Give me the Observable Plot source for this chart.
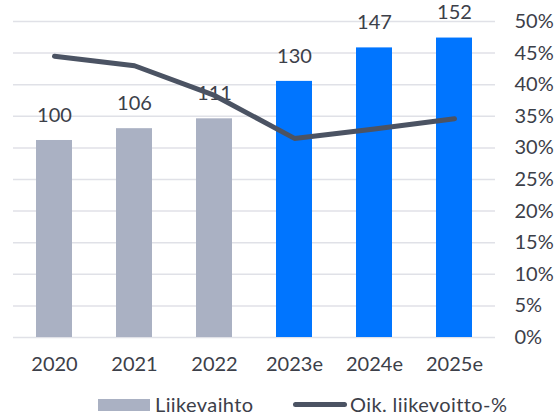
<!DOCTYPE html>
<html>
<head>
<meta charset="utf-8">
<script src="https://cdn.jsdelivr.net/npm/d3@7"></script>
<script src="https://cdn.jsdelivr.net/npm/@observablehq/plot@0.6"></script>
<style>
  html, body { margin: 0; padding: 0; background: #fff; }
  body { width: 558px; height: 416px; overflow: hidden; font-family: Lato, "Open Sans", sans-serif; color: #3c4049; }
  #chart svg { display: block; }
  .legend { position: relative; height: 36px; font-size: 20px; letter-spacing: 0.4px; }
  .legend .sw1 { position: absolute; left: 98px; top: 19px; width: 52px; height: 12px; background: #aab1c3; }
  .legend .t1 { position: absolute; left: 155px; top: 13px; line-height: 22px; }
  .legend .sw2 { position: absolute; left: 293px; top: 22px; width: 54px; height: 5px; border-radius: 3px; background: #4b5363; }
  .legend .t2 { position: absolute; left: 350px; top: 13px; line-height: 22px; }
</style>
</head>
<body>
<div id="chart"></div>
<div class="legend">
  <div class="sw1"></div><div class="t1">Liikevaihto</div>
  <div class="sw2"></div><div class="t2">Oik. liikevoitto-%</div>
</div>
<script>
const years = ["2020", "2021", "2022", "2023e", "2024e", "2025e"];
const revenue = [100, 106, 111, 130, 147, 152];
const margin = [44.5, 43.0, 38.3, 31.5, 33.0, 34.6];
const estimate = [false, false, false, true, true, true];
const percentTicks = [0, 5, 10, 15, 20, 25, 30, 35, 40, 45, 50];

const leftMax = 160.4;   // revenue value at top of plot area
const rightMax = 50;     // percent at top of plot area
const toRight = v => v * rightMax / leftMax;

const data = years.map((y, i) => ({year: y, revenue: revenue[i], margin: margin[i], est: estimate[i]}));

const chart = Plot.plot({
  width: 558,
  height: 380,
  marginLeft: 13,
  marginRight: 63,
  marginTop: 21,
  marginBottom: 43,
  style: {fontFamily: "Lato, 'Open Sans', sans-serif", fontSize: "20px", color: "#3c4049", background: "#fff"},
  x: {domain: years, paddingInner: 0.55, paddingOuter: 0.275, label: null},
  y: {domain: [0, rightMax], label: null},
  marks: [
    Plot.ruleY(percentTicks, {stroke: "#e0e1e7", strokeWidth: 1.5}),
    Plot.barY(data, {x: "year", y: d => toRight(d.revenue), fill: d => d.est ? "#0075ff" : "#aab1c3"}),
    Plot.text(data, {x: "year", y: d => toRight(d.revenue), text: d => String(d.revenue), dy: -25, fontSize: 20, fill: "#3c4049"}),
    Plot.line(data, {x: "year", y: "margin", stroke: "#4b5363", strokeWidth: 5, strokeLinecap: "round", strokeLinejoin: "round"}),
    Plot.axisX({tickSize: 0, tickPadding: 19, fontSize: 20, fill: "#3c4049", label: null}),
    Plot.axisY(percentTicks, {anchor: "right", tickSize: 0, tickPadding: 19, textAnchor: "start", tickFormat: d => d + "%", fontSize: 20, fill: "#3c4049", label: null})
  ]
});
document.getElementById("chart").appendChild(chart);
</script>
</body>
</html>
